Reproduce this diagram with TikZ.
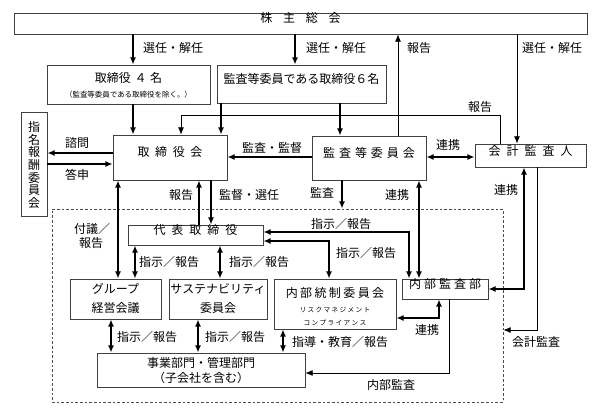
\documentclass[tikz,border=0pt]{standalone}
\usepackage{fontspec}
\setmainfont{Noto Sans CJK JP}
\usetikzlibrary{arrows.meta,fit}
\newcommand\lsp[2]{\def\lspgap{\hspace{#1}}\lspfirst#2\relax}
\def\lspfirst#1{#1\lspnext}
\def\lspnext#1{\ifx#1\relax\else\lspgap#1\expandafter\lspnext\fi}
\tikzset{
  box/.style={draw=black!75, line width=0.6pt, inner sep=0pt, align=center,
    font=\fontsize{9pt}{11pt}\selectfont},
  frame/.style={draw=black!70, line width=0.6pt, dash pattern=on 2pt off 1.5pt, inner sep=0pt},
  lbl/.style={inner sep=0pt, align=center, font=\fontsize{9pt}{11pt}\selectfont},
  arr/.style={-{Latex[length=5.5pt,width=4.6pt]}, line width=1.2pt},
  darr/.style={{Latex[length=5.5pt,width=4.6pt]}-{Latex[length=5.5pt,width=4.6pt]}, line width=1.2pt},
  arrt/.style={-{Latex[length=5.5pt,width=4.6pt]}, line width=0.7pt},
}
\begin{document}
\begin{tikzpicture}[x=0.75pt,y=-0.75pt]
\useasboundingbox (0,0) rectangle (600,420);
\fill[white] (0,0) rectangle (600,420);
% frame
\node[frame, fit={(52,209) (503,402)}] (fr) {};
% boxes
\node[box, fit={(14,13) (587,34)}] (sh) {\lsp{0.9em}{株主総会}};
\node[box, fit={(47,65) (210,104)}] (d4) {};
\node[lbl] (d4t) at (128.5,78) {取締役\hspace{0.3em}４\hspace{0.3em}名};
\node[lbl, font=\fontsize{5.6pt}{7pt}\selectfont] (d4s) at (128.5,95) {（監査等委員である取締役を除く。）};
\node[box, fit={(217,65) (386,103)}] (d6) {監査等委員である取締役６名};
\node[box, fit={(21,112) (47,216)}] (nom) {};
\foreach \c [count=\i from 0] in {指,名,報,酬,委,員,会}
  \node[lbl] (nom\i) at (34,{127+12.7*\i}) {\c};
\node[box, fit={(113,135) (227,180)}] (bd) {\lsp{0.47em}{取締役会}};
\node[box, fit={(312,136) (426,180)}] (ac) {\lsp{0.33em}{監査等委員会}};
\node[box, fit={(475,144) (586,167)}] (au) {\lsp{0.5em}{会計監査人}};
\node[box, fit={(128,225) (263,245)}] (rep) {\lsp{0.5em}{代表取締役}};
\node[box, fit={(70,279) (161,319)}] (grp) {};
\node[lbl] (grp1) at (115.5,289) {グループ};
\node[lbl] (grp2) at (115.5,308) {経営会議};
\node[box, fit={(169,279) (267,319)}] (sus) {};
\node[lbl] (sus1) at (218,289) {サステナビリティ};
\node[lbl] (sus2) at (218,308) {委員会};
\node[box, fit={(274,279) (396,329)}] (ic) {};
\node[lbl] (ict) at (335,293) {\lsp{0.2em}{内部統制委員会}};
\node[lbl, font=\fontsize{5pt}{6pt}\selectfont] (ics1) at (335,310) {\lsp{0.2em}{リスクマネジメント}};
\node[lbl, font=\fontsize{5pt}{6pt}\selectfont] (ics2) at (335,323) {\lsp{0.2em}{コンプライアンス}};
\node[box, fit={(402,279) (488,299)}] (ia) {\lsp{0.25em}{内部監査部}};
\node[box, fit={(97,353) (305,387)}] (biz) {};
\node[lbl] (biz1) at (201,363) {事業部門・管理部門};
\node[lbl] (biz2) at (201,378) {（子会社を含む）};
% helper coordinates
\coordinate (xa) at (133,0);
\coordinate (xb) at (295,0);
\coordinate (xc) at (398,0);
\coordinate (xd) at (517,0);
\coordinate (xe) at (221,0);
\coordinate (xf) at (340,0);
\coordinate (xg) at (500,0);
\coordinate (xh) at (181,0);
\coordinate (yh) at (0,115);
\coordinate (ya) at (0,157);
\coordinate (yb) at (0,153);
\coordinate (yc) at (0,164);
\coordinate (xi) at (118,0);
\coordinate (xj) at (199,0);
\coordinate (xk) at (211,0);
\coordinate (xl) at (342,0);
\coordinate (xm) at (419,0);
\coordinate (ym) at (0,232);
\coordinate (xn) at (409,0);
\coordinate (yn) at (0,241);
\coordinate (xo) at (329,0);
\coordinate (xp) at (135,0);
\coordinate (xq) at (220,0);
\coordinate (xr) at (111,0);
\coordinate (xs) at (198,0);
\coordinate (xt) at (283,0);
\coordinate (yu) at (0,318);
\coordinate (xu) at (439,0);
\coordinate (xv) at (449,0);
\coordinate (yv) at (0,373);
\coordinate (xw) at (524,0);
\coordinate (yw) at (0,289);
\coordinate (xx) at (537,0);
\coordinate (yx) at (0,330);
% connectors
\draw[arr] (sh.south -| xa) -- (d4.north -| xa);
\draw[arr] (sh.south -| xb) -- (d6.north -| xb);
\draw[arrt] (ac.north -| xc) -- (sh.south -| xc);
\draw[arrt] (sh.south -| xd) -- (au.north -| xd);
\draw[arr] (d4.south -| xa) -- (bd.north -| xa);
\draw[arr] (d6.south -| xe) -- (bd.north -| xe);
\draw[arr] (d6.south -| xf) -- (ac.north -| xf);
\draw[arrt] (au.north -| xg) |- (yh -| xh) -- (bd.north -| xh);
\draw[arr] (ac.west |- ya) -- (bd.east |- ya);
\draw[darr] (ac.east |- ya) -- (au.west |- ya);
\draw[arr] (bd.west |- yb) -- (nom.east |- yb);
\draw[arr] (nom.east |- yc) -- (bd.west |- yc);
\draw[darr] (bd.south -| xi) -- (grp.north -| xi);
\draw[arr] (rep.north -| xj) -- (bd.south -| xj);
\draw[arr] (bd.south -| xk) -- (rep.north -| xk);
\draw[arr] (ac.south -| xl) -- (fr.north -| xl);
\draw[darr] (ac.south -| xm) -- (ia.north -| xm);
\draw[darr] (rep.east |- ym) -| (ia.north -| xn);
\draw[darr] (rep.east |- yn) -| (ic.north -| xo);
\draw[darr] (rep.south -| xp) -- (grp.north -| xp);
\draw[darr] (rep.south -| xq) -- (sus.north -| xq);
\draw[darr] (grp.south -| xr) -- (biz.north -| xr);
\draw[darr] (sus.south -| xs) -- (biz.north -| xs);
\draw[darr] (ic.south -| xt) -- (biz.north -| xt);
\draw[darr] (ic.east |- yu) -| (ia.south -| xu);
\draw[arrt] (ia.south -| xv) |- (biz.east |- yv);
\draw[darr] (au.south -| xw) |- (ia.east |- yw);
\draw[arrt] (au.south -| xx) |- (fr.east |- yx);
% labels
\node[lbl] (l1) at (173,48) {選任・解任};
\node[lbl] (l2) at (336,48) {選任・解任};
\node[lbl] (l3) at (419,48) {報告};
\node[lbl] (l4) at (552,48) {選任・解任};
\node[lbl] (l5) at (480,107) {報告};
\node[lbl] (l6) at (77,143) {諮問};
\node[lbl] (l7) at (77,175) {答申};
\node[lbl] (l8) at (272,148) {監査・監督};
\node[lbl] (l9) at (448,145) {連携};
\node[lbl] (l10) at (181,195) {報告};
\node[lbl] (l11) at (249,195) {監督・選任};
\node[lbl] (l12) at (322,193) {監査};
\node[lbl] (l13) at (397,195) {連携};
\node[lbl] (l14) at (506,190) {連携};
\node[lbl] (l15a) at (92,229) {付議／};
\node[lbl] (l15b) at (91,243) {報告};
\node[lbl] (l16) at (169,262) {指示／報告};
\node[lbl] (l17) at (259,262) {指示／報告};
\node[lbl] (l18) at (341,224) {指示／報告};
\node[lbl] (l19) at (366,253) {指示／報告};
\node[lbl] (l20) at (147,337) {指示／報告};
\node[lbl] (l21) at (235,337) {指示／報告};
\node[lbl] (l22) at (340,342) {指導・教育／報告};
\node[lbl] (l23) at (427,330) {連携};
\node[lbl] (l24) at (391,385) {内部監査};
\node[lbl] (l25) at (536,342) {会計監査};
\end{tikzpicture}
\end{document}
